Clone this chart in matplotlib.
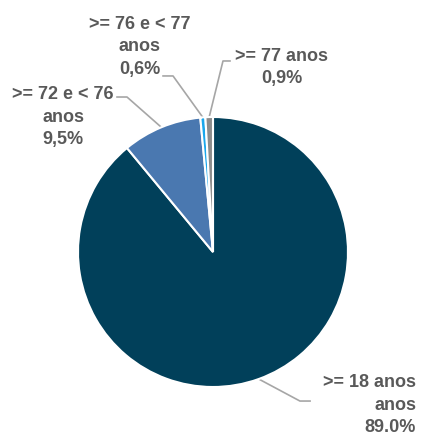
import numpy as np
import matplotlib
matplotlib.use("Agg")
import matplotlib.pyplot as plt

# data
labels = [">= 18 anos\nanos", ">= 72 e < 76\nanos", ">= 76 e < 77\nanos", ">= 77 anos"]
pct_text = ["89.0%", "9,5%", "0,6%", "0,9%"]
values = [89.0, 9.5, 0.6, 0.9]
colors = ["#01405A", "#4A78B0", "#1AA7EC", "#8C8C8C"]

# label layout (data coords, radius = 1)
text_pos = [(1.505, -1.126), (-1.111, 1.007), (-0.541, 1.526), (0.511, 1.374)]
text_ha = ["right", "center", "center", "center"]
elbows = [((0.644, -1.104), (0.719, -1.104)),
          ((-0.637, 1.148), (-0.711, 1.148)),
          ((-0.296, 1.304), (-0.370, 1.304)),
          ((0.074, 1.415), (0.126, 1.415))]

plt.rcParams["font.family"] = ["Liberation Sans Narrow", "Liberation Sans", "DejaVu Sans"]

fig = plt.figure(figsize=(4.21, 4.39), dpi=100)
ax = fig.add_axes([78 / 421, (439 - 253 - 135) / 439, 270 / 421, 270 / 439])

wedges, _ = ax.pie(values, colors=colors, startangle=90, counterclock=False,
                   wedgeprops=dict(edgecolor="white", linewidth=1.5))
ax.set_xlim(-1, 1)
ax.set_ylim(-1, 1)
ax.set_aspect("equal")
ax.axis("off")

for w, (elb, end), pos, ha, lab, pt in zip(wedges, elbows, text_pos, text_ha, labels, pct_text):
    mid = np.deg2rad((w.theta1 + w.theta2) / 2)
    start = (np.cos(mid), np.sin(mid))
    ax.plot([start[0], elb[0], end[0]], [start[1], elb[1], end[1]],
            color="#A6A6A6", lw=1.2, clip_on=False, zorder=0)
    ax.text(pos[0], pos[1], lab + "\n" + pt, ha=ha, va="center", multialignment=ha,
            fontsize=13, fontweight="bold", color="#595959", linespacing=1.45,
            clip_on=False)

fig.savefig("out.png", dpi=100)
